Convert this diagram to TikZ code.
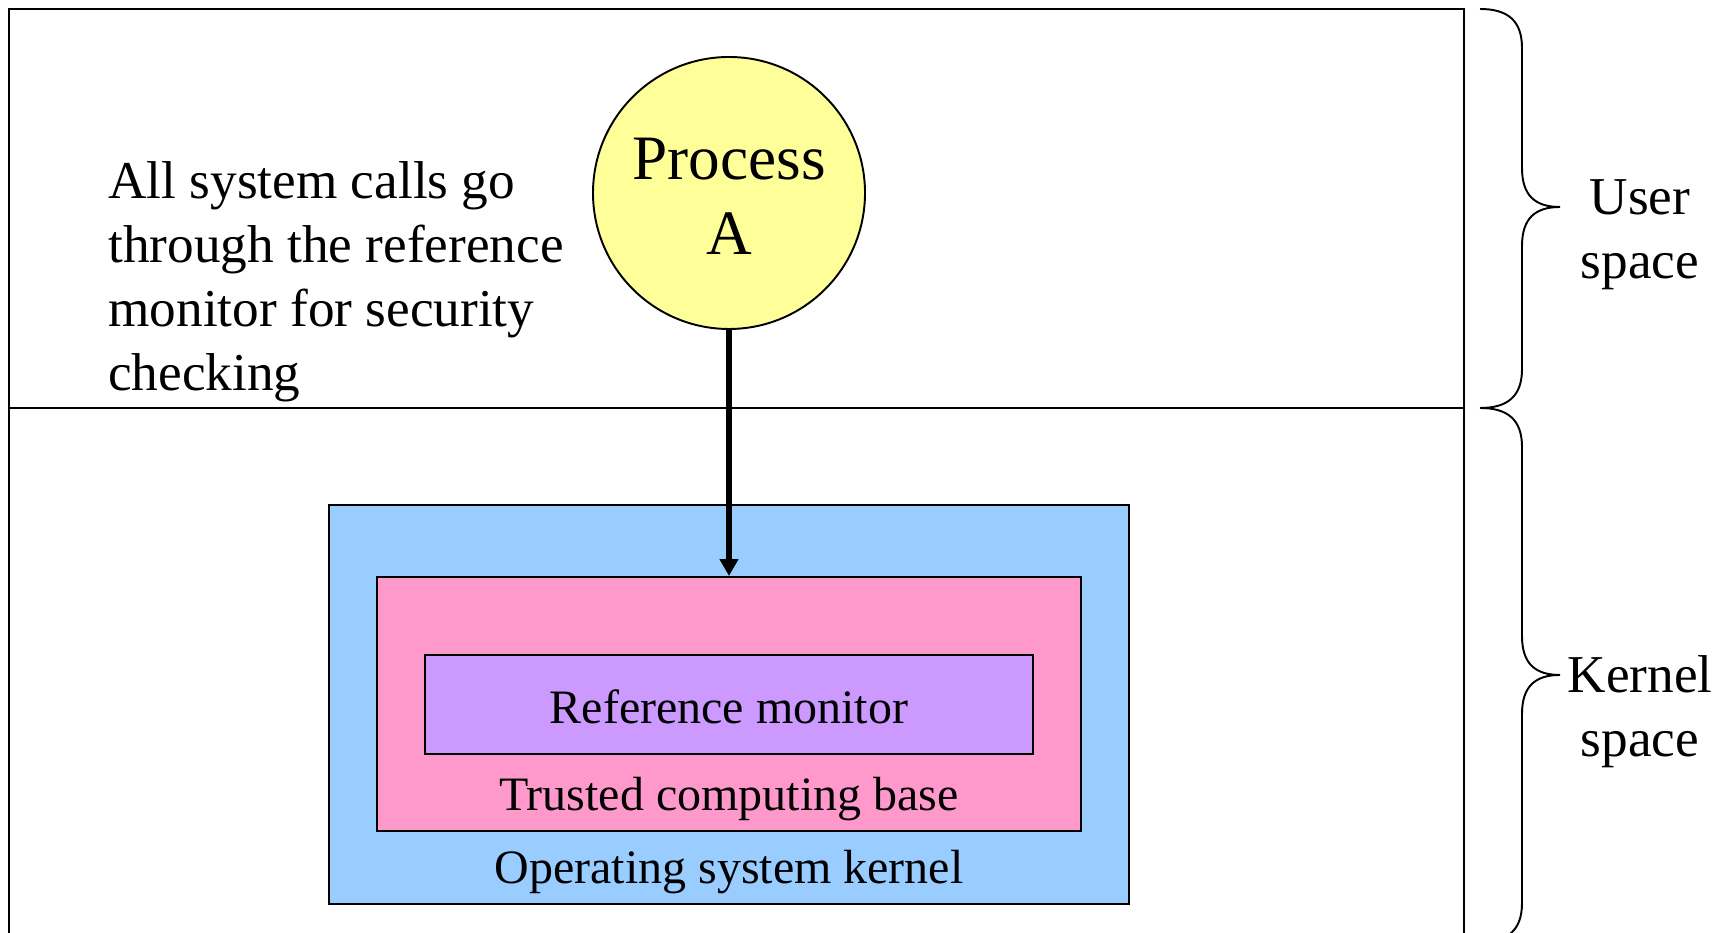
\documentclass[tikz,border=0pt]{standalone}
\usepackage{fontspec}
\setmainfont{Liberation Serif}
\usetikzlibrary{arrows.meta}

\definecolor{procyellow}{HTML}{FFFF99}
\definecolor{kernelblue}{HTML}{99CCFF}
\definecolor{tcbpink}{HTML}{FF99CC}
\definecolor{monpurple}{HTML}{CC99FF}

\tikzstyle{frame}=[draw=black, line width=1.1pt]
\tikzstyle{proc}=[shape=circle,
	          fill=procyellow,
	          draw=black,
	          line width=1.1pt,
	          minimum size=5.44cm,
	          inner sep=0pt]
\tikzstyle{proctext}=[inner sep=0pt, align=center, font=\fontsize{36}{43}\selectfont]
\tikzstyle{layer}=[shape=rectangle,
	           draw=black,
	           line width=1.1pt,
	           inner sep=0pt]
\tikzstyle{lbl}=[inner sep=0pt, font=\fontsize{27.3}{32}\selectfont]
\tikzstyle{side}=[inner sep=0pt, align=center, font=\fontsize{30.3}{36.5}\selectfont]

\begin{document}
\begin{tikzpicture}

\useasboundingbox (0,0) rectangle (34.58,18.66);

% user / kernel frame and the line between them
\draw[frame] (0.18,0) -- (0.18,18.48) -- (29.28,18.48) -- (29.28,0);
\draw[frame] (0.18,10.5) -- (29.28,10.5);

% nested layers, outermost first
\node[layer, fill=kernelblue, minimum width=16cm, minimum height=7.98cm] (kernel) at (14.58,4.57) {};
\node[layer, fill=tcbpink, minimum width=14.08cm, minimum height=5.08cm] (tcb) at (14.58,4.58) {};
\node[layer, fill=monpurple, minimum width=12.16cm, minimum height=1.98cm] (monitor) at (14.58,4.57) {};

\node[lbl] (monlabel) at ([yshift=-0.05cm]monitor) {Reference monitor};
\node[lbl] (tcblabel) at ([yshift=0.66cm]tcb.south) {Trusted computing base};
\node[lbl] (oslabel) at ([yshift=0.66cm]kernel.south) {Operating system kernel};

% the process and its call into the kernel
\node[proc, label={[proctext, yshift=-0.07cm]center:Process\\A}] (procA) at (14.58,14.8) {};
\draw[line width=2.9pt, -{Triangle[width=0.36cm,length=0.34cm]}] (procA) -- (tcb);

\node[side, align=left, anchor=west] (note) at (2.16,13.02)
  {All system calls go\\through the reference\\monitor for security\\checking};

% braces on the right
\draw[line width=1.1pt] (29.6,18.48) .. controls (30.15,18.48) and (30.44,18.25) .. (30.44,17.7)
  -- (30.44,15.3) .. controls (30.44,14.75) and (30.7,14.52) .. (31.2,14.52)
  .. controls (30.7,14.52) and (30.44,14.29) .. (30.44,13.74)
  -- (30.44,11.28) .. controls (30.44,10.73) and (30.15,10.5) .. (29.6,10.5);
\draw[line width=1.1pt] (29.6,10.5) .. controls (30.15,10.5) and (30.44,10.27) .. (30.44,9.72)
  -- (30.44,5.94) .. controls (30.44,5.39) and (30.7,5.16) .. (31.2,5.16)
  .. controls (30.7,5.16) and (30.44,4.93) .. (30.44,4.38)
  -- (30.44,0.6) .. controls (30.44,0.05) and (30.15,-0.18) .. (29.6,-0.18);

\node[side] (user) at (32.8,13.97) {User\\space};
\node[side] (kern) at (32.8,4.42) {Kernel\\space};

\end{tikzpicture}
\end{document}
